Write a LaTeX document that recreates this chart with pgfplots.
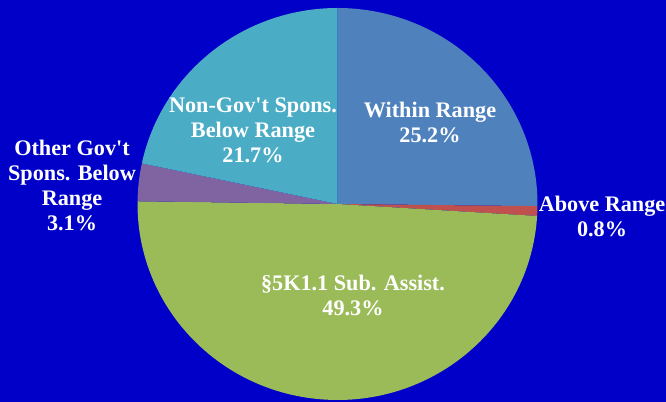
\documentclass[border=0pt]{standalone}
\usepackage{pgfplots}
\usepackage{pgfplotstable}
\pgfplotsset{compat=1.18}
\usepackage{fontspec}
\setmainfont{Liberation Serif}[Ligatures=TeXOff]

\definecolor{bgblue}{RGB}{0,0,200}
\definecolor{slice0}{RGB}{79,129,189}
\definecolor{slice1}{RGB}{192,80,77}
\definecolor{slice2}{RGB}{155,187,89}
\definecolor{slice3}{RGB}{128,100,162}
\definecolor{slice4}{RGB}{75,172,198}
\tikzset{lbl/.style={text=white, align=center,
  font=\bfseries\fontsize{15.8}{17.8}\selectfont}}

% shares in percent, clockwise from 12 o'clock
\pgfplotstableread{
idx value
0 25.2
1 0.8
2 49.3
3 3.1
4 21.7
}\piedata

\begin{document}
\begin{tikzpicture}
\pgfmathsetmacro{\total}{100.1}
\xdef\curang{90}
\foreach \i in {0,...,4}{
  \pgfplotstablegetelem{\i}{value}\of\piedata
  \pgfmathsetmacro{\nextang}{\curang-\pgfplotsretval/\total*360}
  \expandafter\xdef\csname sa\i\endcsname{\curang}
  \expandafter\xdef\csname ea\i\endcsname{\nextang}
  \xdef\curang{\nextang}
}
\begin{axis}[
    scale only axis,
    width=16.65cm, height=10.05cm,
    xmin=0, xmax=666, ymin=0, ymax=402,
    axis lines=none, ticks=none,
]
\fill[bgblue] (axis cs:0,0) rectangle (axis cs:666,402);
\pgfplotsinvokeforeach{0,...,4}{
  \fill[slice#1] (axis cs:337.5,198)
    -- (axis cs:{337.5+200*cos(\csname sa#1\endcsname)},{198+196*sin(\csname sa#1\endcsname)})
    arc[start angle=\csname sa#1\endcsname, end angle=\csname ea#1\endcsname,
        x radius=200, y radius=196] -- cycle;
}
\node[lbl] at (axis cs:430,280) {Within Range\\25.2\%};
\node[lbl] at (axis cs:602,186) {Above Range\\0.8\%};
\node[lbl] at (axis cs:353,107) {§5K1.1 Sub. Assist.\\49.3\%};
\node[lbl] at (axis cs:72,217) {Other Gov't\\Spons. Below\\Range\\3.1\%};
\node[lbl] at (axis cs:253,272) {Non-Gov't Spons.\\Below Range\\21.7\%};
\end{axis}
\end{tikzpicture}
\end{document}
